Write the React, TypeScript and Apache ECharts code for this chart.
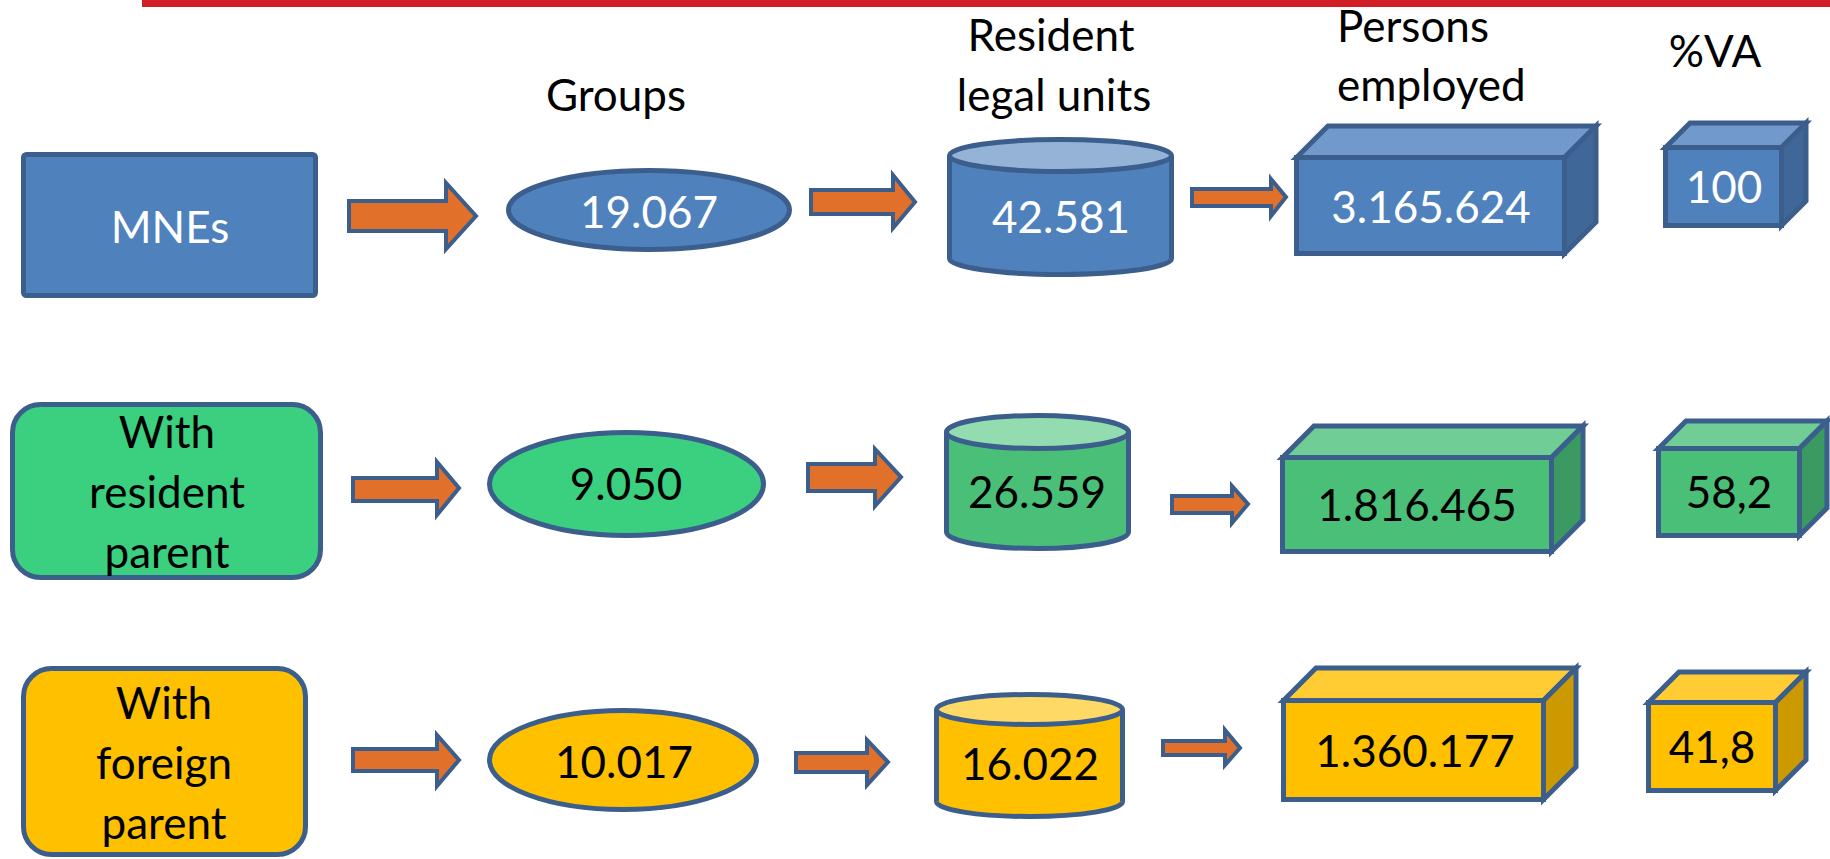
import React, { useEffect, useRef } from "react";
import * as echarts from "echarts";

// ---- content ----
const headerLines = ["Groups", "Resident", "legal units", "Persons", "employed", "%VA"];
const rowLabels = [["MNEs"], ["With", "resident", "parent"], ["With", "foreign", "parent"]];
const groups = ["19.067", "9.050", "10.017"];
const legalUnits = ["42.581", "26.559", "16.022"];
const personsEmployed = ["3.165.624", "1.816.465", "1.360.177"];
const vaShare = ["100", "58,2", "41,8"];

// ---- styles ----
const STROKE = "#3b5e8c";
const ARROW_FILL = "#e0702a";
const FONT = "Lato";
const FS = 44;

const palettes = [
  { start: "#4f81bd", ell: "#4f81bd", main: "#4f81bd", cylTop: "#95b3d7", boxTop: "#7299cb", boxSide: "#3f6898", text: "#ffffff" },
  { start: "#3bcf80", ell: "#3bcf80", main: "#4abf78", cylTop: "#93dcb0", boxTop: "#6fcd95", boxSide: "#3a9a62", text: "#000000" },
  { start: "#ffc000", ell: "#ffc000", main: "#ffc000", cylTop: "#ffd966", boxTop: "#ffcc33", boxSide: "#cc9a00", text: "#000000" },
];

// ---- layout (outer edges in px) ----
const headerPos = [
  { x: 616, base: 110, align: "center" },
  { x: 1051, base: 50, align: "center" },
  { x: 1054, base: 110, align: "center" },
  { x: 1337, base: 41, align: "left" },
  { x: 1337, base: 100, align: "left" },
  { x: 1715, base: 66, align: "center" },
];

const layout = [
  {
    start: { x1: 21, x2: 318, y1: 152, y2: 298, r: 3, tx: 170, bases: [242] },
    ell: { x1: 506, x2: 792, y1: 168, y2: 252, tx: 649, base: 227 },
    cyl: { x1: 947, x2: 1174, top: 137, topEnd: 174, bottom: 277, tx: 1061, base: 232 },
    box: { x1: 1294, x2: 1567, y1: 155, y2: 256, d: 34, tx: 1431, base: 222 },
    cube: { x1: 1663, x2: 1784, y1: 145, y2: 228, d: 27, tx: 1724, base: 202 },
    arrows: [
      { x0: 347, hx: 444, tip: 479, sT: 199, sB: 233, hT: 180, hB: 252, cy: 216 },
      { x0: 809, hx: 891, tip: 918, sT: 188, sB: 216, hT: 172, hB: 231, cy: 202 },
      { x0: 1190, hx: 1269, tip: 1289, sT: 187, sB: 208, hT: 176, hB: 219, cy: 197 },
    ],
  },
  {
    start: { x1: 10, x2: 323, y1: 402, y2: 580, r: 28, tx: 167, bases: [447, 507, 567] },
    ell: { x1: 487, x2: 766, y1: 430, y2: 538, tx: 626, base: 499 },
    cyl: { x1: 944, x2: 1131, top: 413, topEnd: 451, bottom: 551, tx: 1037, base: 507 },
    box: { x1: 1280, x2: 1554, y1: 455, y2: 554, d: 34, tx: 1417, base: 520 },
    cube: { x1: 1656, x2: 1802, y1: 446, y2: 538, d: 30, tx: 1729, base: 507 },
    arrows: [
      { x0: 351, hx: 435, tip: 462, sT: 476, sB: 503, hT: 459, hB: 518, cy: 488 },
      { x0: 806, hx: 873, tip: 904, sT: 462, sB: 493, hT: 446, hB: 509, cy: 477 },
      { x0: 1170, hx: 1230, tip: 1251, sT: 494, sB: 515, hT: 483, hB: 526, cy: 504 },
    ],
  },
  {
    start: { x1: 21, x2: 308, y1: 666, y2: 857, r: 28, tx: 164, bases: [718, 778, 838] },
    ell: { x1: 487, x2: 759, y1: 708, y2: 812, tx: 624, base: 777 },
    cyl: { x1: 934, x2: 1125, top: 692, topEnd: 727, bottom: 819, tx: 1030, base: 779 },
    box: { x1: 1281, x2: 1546, y1: 698, y2: 802, d: 35, tx: 1415, base: 766 },
    cube: { x1: 1646, x2: 1778, y1: 700, y2: 793, d: 33, tx: 1712, base: 762 },
    arrows: [
      { x0: 351, hx: 435, tip: 462, sT: 747, sB: 773, hT: 732, hB: 789, cy: 760 },
      { x0: 794, hx: 865, tip: 891, sT: 751, sB: 774, hT: 737, hB: 788, cy: 762 },
      { x0: 1161, hx: 1223, tip: 1243, sT: 739, sB: 757, hT: 727, hB: 768, cy: 748 },
    ],
  },
];

const SW = 5; // shape stroke width
const H = SW / 2;

function textEl(text: string, x: number, base: number, fill: string, align = "center"): any {
  return {
    type: "text",
    x,
    y: base - 16,
    z: 10,
    style: {
      text,
      fill,
      font: `${FS}px ${FONT}`,
      fontFamily: FONT,
      fontSize: FS,
      align,
      textAlign: align,
      verticalAlign: "middle",
      textVerticalAlign: "middle",
    },
  };
}

function arrowEl(a: any): any {
  const s = 2;
  return {
    type: "polygon",
    shape: {
      points: [
        [a.x0 + s, a.sT + s],
        [a.hx + s, a.sT + s],
        [a.hx + s, a.hT + 3],
        [a.tip - 3, a.cy],
        [a.hx + s, a.hB - 3],
        [a.hx + s, a.sB - s],
        [a.x0 + s, a.sB - s],
      ],
    },
    style: { fill: ARROW_FILL, stroke: STROKE, lineWidth: 4, lineJoin: "miter" },
  };
}

function cylinderEls(c: any, p: any): any[] {
  const x1 = c.x1 + H;
  const x2 = c.x2 - H;
  const cx = (x1 + x2) / 2;
  const rx = (x2 - x1) / 2;
  const ry = (c.topEnd - c.top) / 2 - H;
  const topCy = c.top + H + ry;
  const botCy = c.bottom - H - ry;
  return [
    { type: "ellipse", shape: { cx, cy: botCy, rx, ry }, style: { fill: p.main, stroke: STROKE, lineWidth: SW } },
    { type: "rect", shape: { x: x1, y: topCy, width: x2 - x1, height: botCy - topCy }, style: { fill: p.main } },
    { type: "line", shape: { x1, y1: topCy, x2: x1, y2: botCy }, style: { stroke: STROKE, lineWidth: SW } },
    { type: "line", shape: { x1: x2, y1: topCy, x2, y2: botCy }, style: { stroke: STROKE, lineWidth: SW } },
    { type: "ellipse", shape: { cx, cy: topCy, rx, ry }, style: { fill: p.cylTop, stroke: STROKE, lineWidth: SW } },
  ];
}

function boxEls(b: any, p: any): any[] {
  const x1 = b.x1 + H;
  const x2 = b.x2 - H;
  const y1 = b.y1 + H;
  const y2 = b.y2 - H;
  const d = b.d - H;
  const st = { stroke: STROKE, lineWidth: SW, lineJoin: "miter" };
  return [
    { type: "polygon", shape: { points: [[x1, y1], [x1 + d, y1 - d], [x2 + d, y1 - d], [x2, y1]] }, style: { fill: p.boxTop, ...st } },
    { type: "polygon", shape: { points: [[x2, y1], [x2 + d, y1 - d], [x2 + d, y2 - d], [x2, y2]] }, style: { fill: p.boxSide, ...st } },
    { type: "rect", shape: { x: x1, y: y1, width: x2 - x1, height: y2 - y1 }, style: { fill: p.main, ...st } },
  ];
}

function buildGraphics(): any[] {
  const els: any[] = [];
  els.push({ type: "rect", shape: { x: 142, y: 0, width: 1830 - 142, height: 7 }, style: { fill: "#d21f26" } });
  headerLines.forEach((t, i) => {
    const hp = headerPos[i];
    els.push(textEl(t, hp.x, hp.base, "#000000", hp.align));
  });
  layout.forEach((L, r) => {
    const p = palettes[r];
    const s = L.start;
    els.push({
      type: "rect",
      shape: { x: s.x1 + H, y: s.y1 + H, width: s.x2 - s.x1 - SW, height: s.y2 - s.y1 - SW, r: s.r },
      style: { fill: p.start, stroke: STROKE, lineWidth: SW },
    });
    rowLabels[r].forEach((line, j) => els.push(textEl(line, s.tx, s.bases[j], p.text)));

    const e = L.ell;
    els.push({
      type: "ellipse",
      shape: { cx: (e.x1 + e.x2) / 2, cy: (e.y1 + e.y2) / 2, rx: (e.x2 - e.x1) / 2 - H, ry: (e.y2 - e.y1) / 2 - H },
      style: { fill: p.ell, stroke: STROKE, lineWidth: SW },
    });
    els.push(textEl(groups[r], e.tx, e.base, p.text));

    cylinderEls(L.cyl, p).forEach((x) => els.push(x));
    els.push(textEl(legalUnits[r], L.cyl.tx, L.cyl.base, p.text));

    boxEls(L.box, p).forEach((x) => els.push(x));
    els.push(textEl(personsEmployed[r], L.box.tx, L.box.base, p.text));

    boxEls(L.cube, p).forEach((x) => els.push(x));
    els.push(textEl(vaShare[r], L.cube.tx, L.cube.base, p.text));

    L.arrows.forEach((a) => els.push(arrowEl(a)));
  });
  return els;
}

export default function App() {
  const ref = useRef<HTMLDivElement>(null);
  useEffect(() => {
    if (!ref.current) return;
    const chart = echarts.init(ref.current, undefined, { renderer: "svg" });
    chart.setOption({
      animation: false,
      backgroundColor: "#ffffff",
      graphic: { elements: buildGraphics() },
    });
    return () => chart.dispose();
  }, []);
  return (
    <div
      ref={ref}
      style={{ position: "fixed", left: 0, top: 0, width: 1830, height: 859, background: "#ffffff" }}
    />
  );
}
